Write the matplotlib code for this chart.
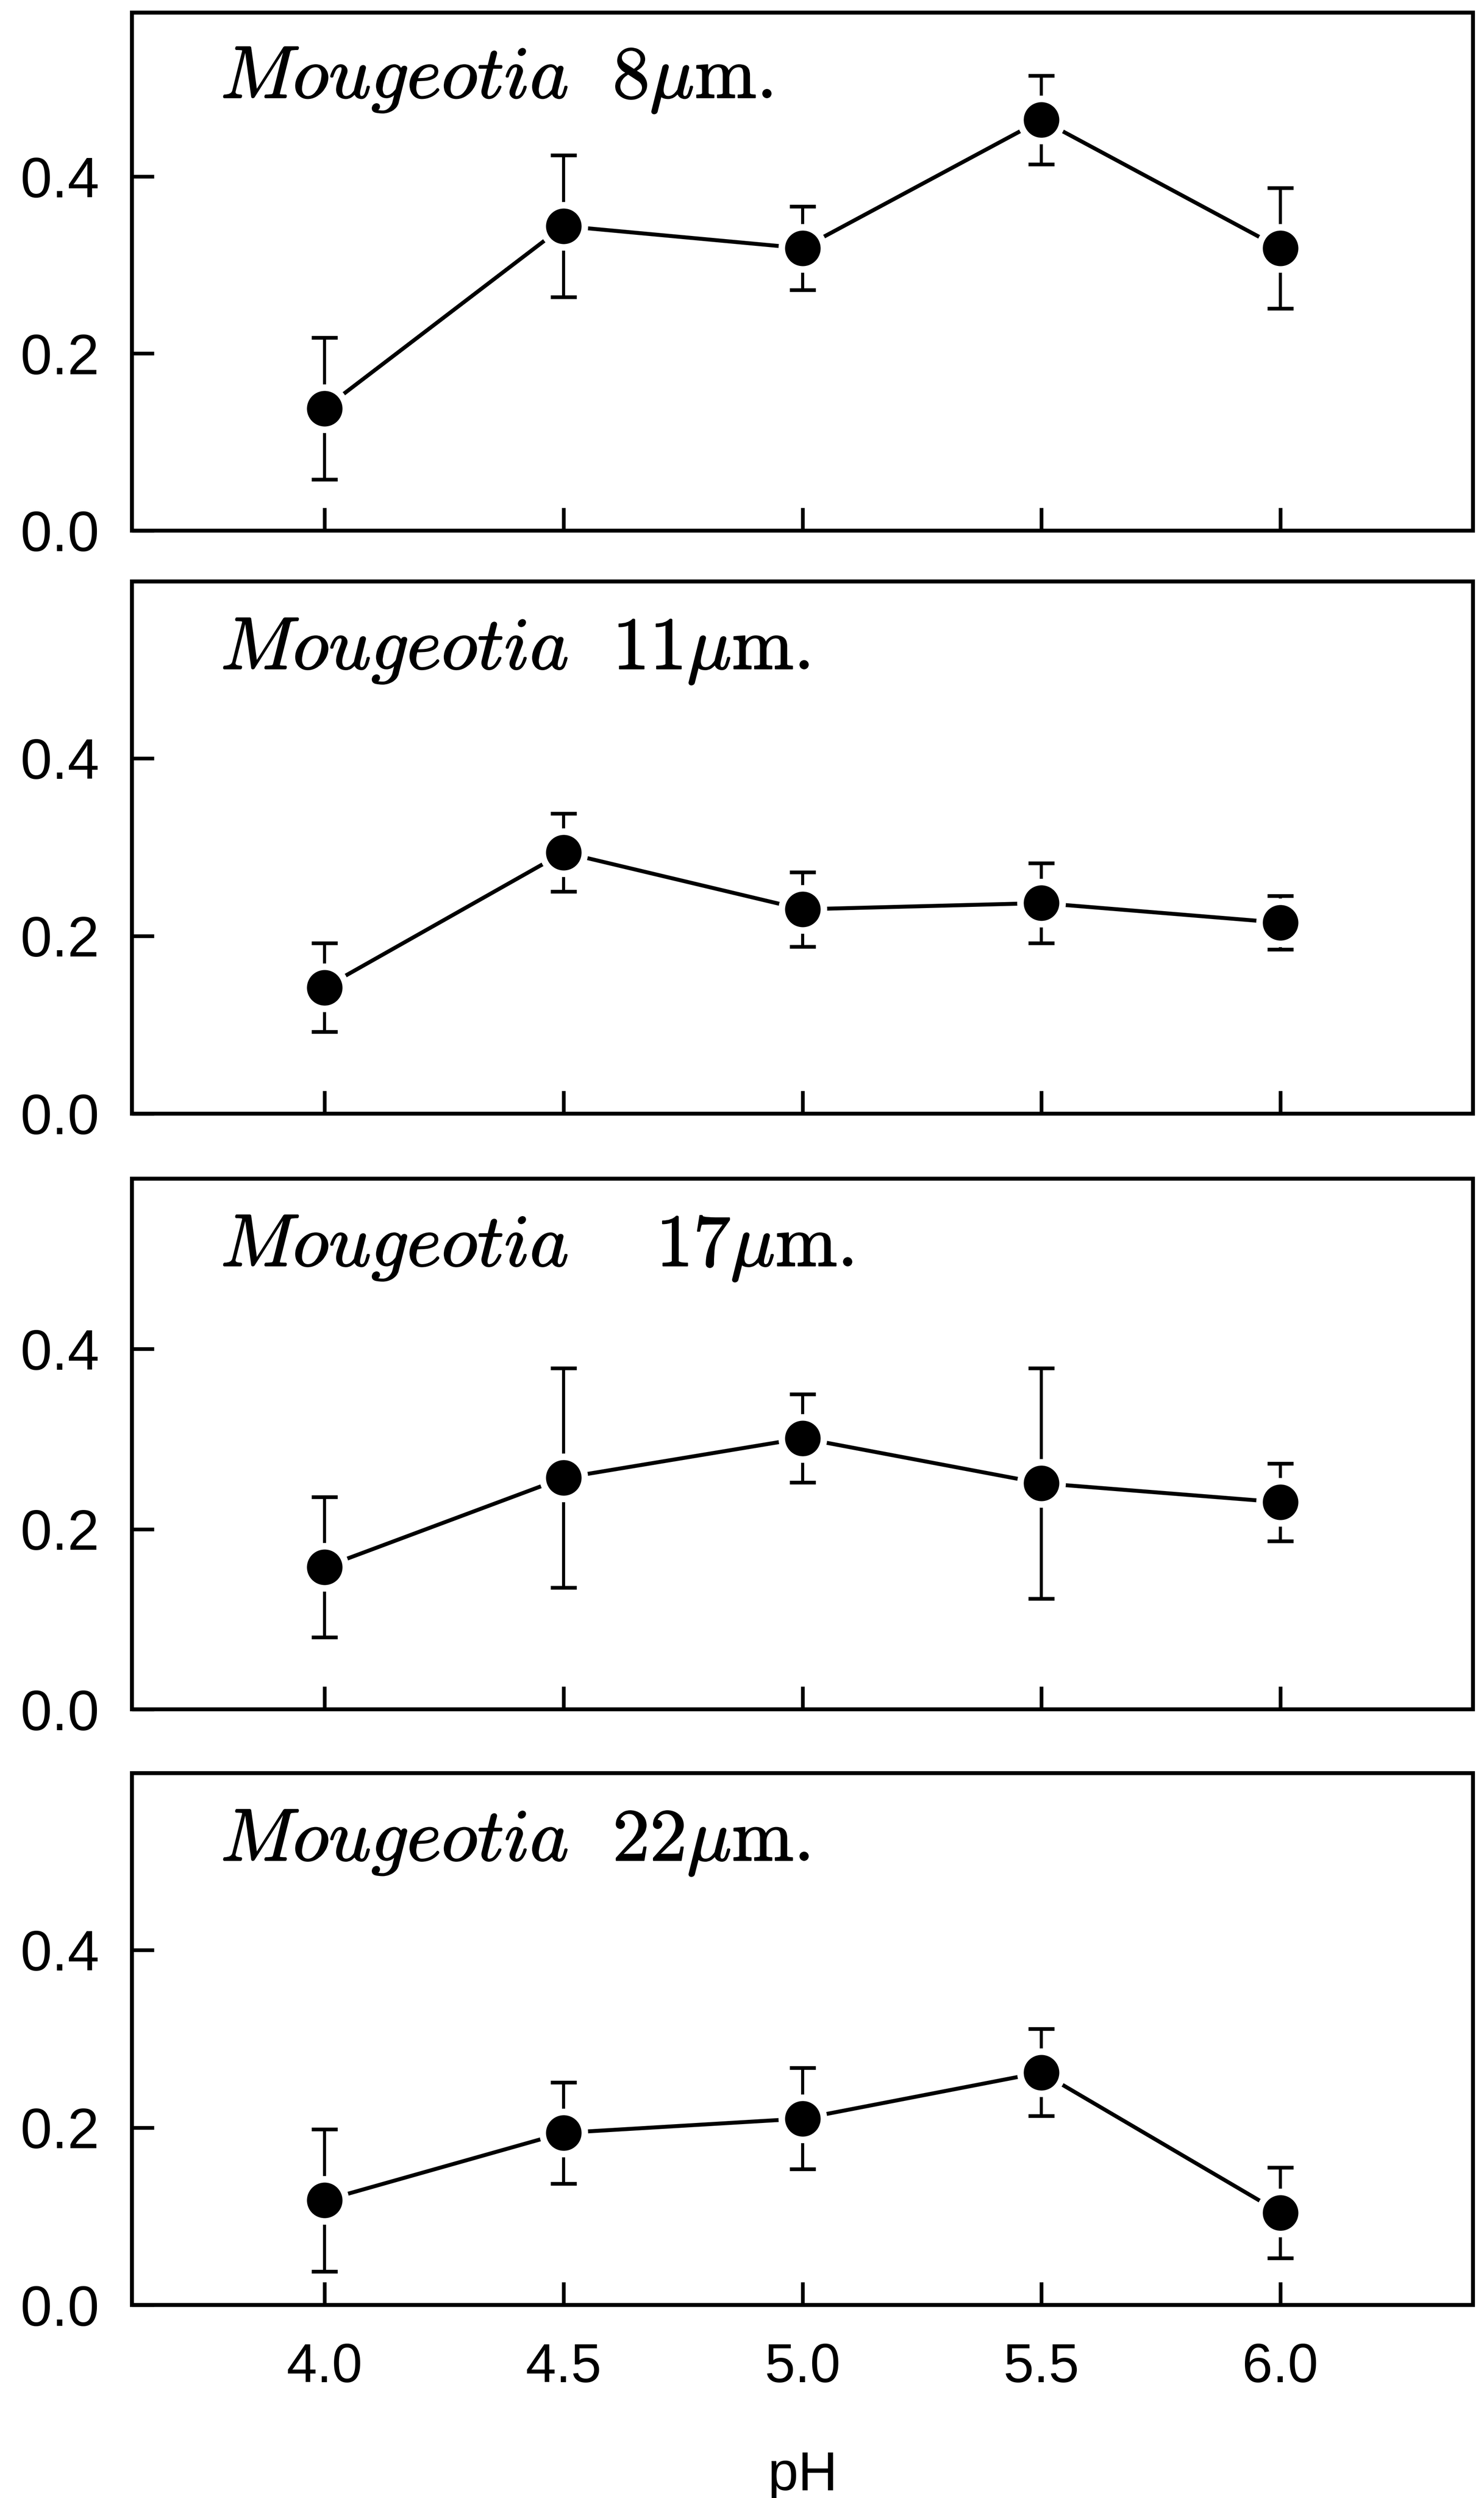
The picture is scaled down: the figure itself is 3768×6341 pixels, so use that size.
import matplotlib
matplotlib.use("Agg")
import matplotlib.pyplot as plt
import matplotlib.patheffects as pe

# pH levels tested
ph = [4.0, 4.5, 5.0, 5.5, 6.0]

# Mean response and error (±) for each filament width
titles = [r"$Mougeotia\ \ 8\mu\mathrm{m.}$",
          r"$Mougeotia\ \ 11\mu\mathrm{m.}$",
          r"$Mougeotia\ \ \ \ 17\mu\mathrm{m.}$",
          r"$Mougeotia\ \ 22\mu\mathrm{m.}$"]

mean_8 = [0.138, 0.344, 0.319, 0.464, 0.319]
err_8 = [0.080, 0.080, 0.047, 0.050, 0.068]

mean_11 = [0.142, 0.294, 0.230, 0.237, 0.215]
err_11 = [0.050, 0.044, 0.042, 0.045, 0.030]

mean_17 = [0.158, 0.257, 0.301, 0.251, 0.230]
err_17 = [0.078, 0.122, 0.049, 0.128, 0.043]

mean_22 = [0.118, 0.194, 0.210, 0.262, 0.104]
err_22 = [0.080, 0.057, 0.057, 0.049, 0.051]

means = [mean_8, mean_11, mean_17, mean_22]
errs = [err_8, err_11, err_17, err_22]

yticks = [0.0, 0.2, 0.4]
ytick_labels = ["0.0", "0.2", "0.4"]
xtick_labels = ["4.0", "4.5", "5.0", "5.5", "6.0"]

plt.rcParams["mathtext.fontset"] = "cm"
plt.rcParams["font.family"] = ["Liberation Sans", "DejaVu Sans"]

fig = plt.figure(figsize=(18.84, 31.705), dpi=200)

# panel boxes (left, bottom, width, height) and upper y limits
left, width = 0.089, 0.9035
bottoms = [0.7876, 0.5542, 0.3157, 0.0772]
heights = [0.2073, 0.2130, 0.2124, 0.2130]
ytops = [0.585, 0.599, 0.589, 0.599]

for i in range(4):
    ax = fig.add_axes([left, bottoms[i], width, heights[i]])
    ax.errorbar(ph, means[i], yerr=errs[i], fmt="none", ecolor="black",
                elinewidth=2.8, capsize=12, capthick=3.4, zorder=2)
    ax.plot(ph, means[i], color="black", linewidth=3.6, marker="o",
            markersize=38.5, markerfacecolor="black", markeredgecolor="white",
            markeredgewidth=6, zorder=3)

    ax.set_xlim(3.597, 6.403)
    ax.set_ylim(0.0, ytops[i])
    ax.set_xticks(ph)
    ax.set_yticks(yticks)
    ax.set_yticklabels(ytick_labels)
    if i == 3:
        ax.set_xticklabels(xtick_labels)
        ax.set_xlabel("pH", fontsize=50, labelpad=52)
    else:
        ax.set_xticklabels([])

    ax.tick_params(axis="y", direction="in", length=20, width=3.4,
                   labelsize=52, pad=30)
    ax.tick_params(axis="x", direction="in", length=21, width=3.4,
                   labelsize=50, pad=34)
    for sp in ax.spines.values():
        sp.set_linewidth(3.6)

    t = ax.text(0.066, 0.835, titles[i], transform=ax.transAxes,
                fontsize=68, ha="left", va="baseline")
    t.set_path_effects([pe.withStroke(linewidth=1.0, foreground="black")])

fig.savefig("out.png", dpi=200)
